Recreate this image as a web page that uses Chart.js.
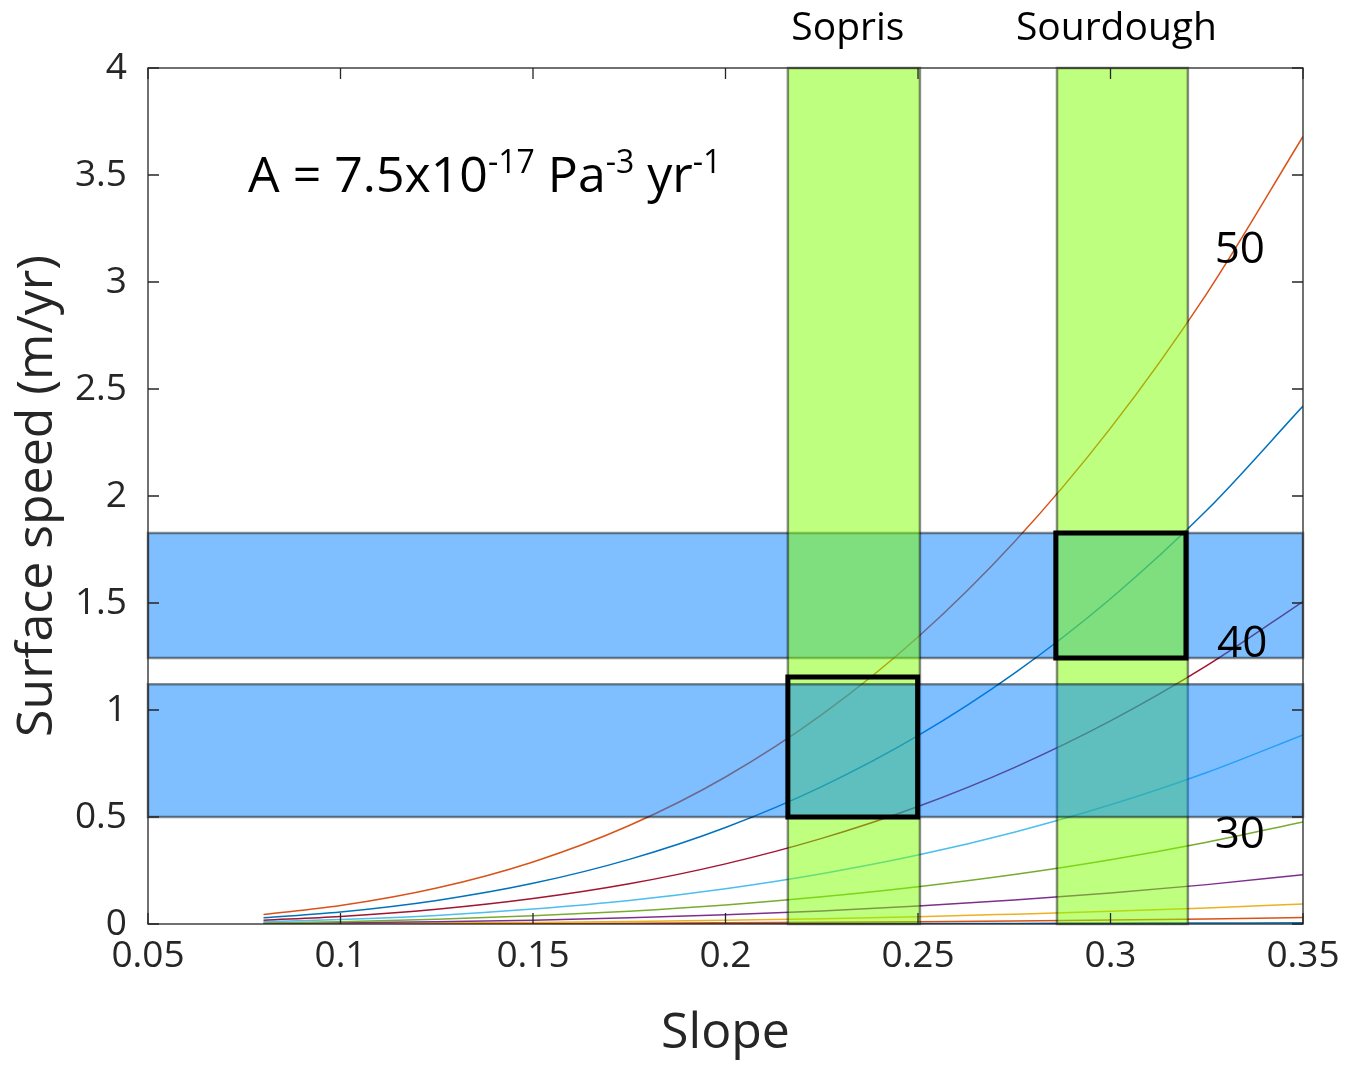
<!DOCTYPE html>
<html>
<head>
<meta charset="utf-8">
<script src="https://cdn.jsdelivr.net/npm/chart.js@4.4.1/dist/chart.umd.min.js"></script>
<style>
  html, body { margin: 0; padding: 0; background: #ffffff; }
  #wrap { width: 1355px; height: 1066px; position: relative; }
</style>
</head>
<body>
<div id="wrap"><canvas id="chart" width="1355" height="1066"></canvas></div>
<script>
// Surface speed vs. slope for ice thicknesses of 10-50 m
const slopes = [0.08, 0.1, 0.125, 0.15, 0.175, 0.2, 0.225, 0.25, 0.275, 0.3, 0.325, 0.35];
const thicknesses = [10, 15, 20, 25, 30, 35, 40, 45, 50];

const speedH10 = [0.0001, 0.0001, 0.0003, 0.0005, 0.0007, 0.0011, 0.0016, 0.0021, 0.0029, 0.0037, 0.0047, 0.0059];
const speedH15 = [0.0004, 0.0007, 0.0014, 0.0023, 0.0037, 0.0056, 0.0079, 0.011, 0.0145, 0.0188, 0.0239, 0.030];
const speedH20 = [0.0011, 0.0022, 0.0043, 0.0074, 0.0118, 0.0176, 0.025, 0.034, 0.046, 0.059, 0.075, 0.094];
const speedH25 = [0.0027, 0.0054, 0.0105, 0.018, 0.029, 0.043, 0.061, 0.084, 0.112, 0.145, 0.184, 0.230];
const speedH30 = [0.0057, 0.011, 0.022, 0.038, 0.060, 0.089, 0.127, 0.174, 0.231, 0.300, 0.382, 0.477];
const speedH35 = [0.011, 0.021, 0.040, 0.070, 0.110, 0.165, 0.235, 0.322, 0.429, 0.557, 0.708, 0.884];
const speedH40 = [0.018, 0.035, 0.069, 0.119, 0.188, 0.281, 0.400, 0.549, 0.731, 0.949, 1.207, 1.507];
const speedH45 = [0.029, 0.056, 0.110, 0.190, 0.302, 0.451, 0.642, 0.880, 1.171, 1.520, 1.933, 2.420];
const speedH50 = [0.044, 0.086, 0.168, 0.290, 0.460, 0.687, 0.978, 1.341, 1.785, 2.317, 2.946, 3.680];

const speedSeries = [speedH10, speedH15, speedH20, speedH25, speedH30, speedH35, speedH40, speedH45, speedH50];
const lineColors = ['#0072BD', '#D95319', '#EDB120', '#7E2F8E', '#77AC30', '#4DBEEE', '#A2142F', '#0072BD', '#D95319'];

// Observed slope ranges of the two glaciers
const glacierNames = ['Sopris', 'Sourdough'];
const glacierSlopes = [[0.2162, 0.2505], [0.2861, 0.3201]];
// Observed surface speed ranges (lower band, upper band)
const speedBands = [[0.5, 1.12], [1.243, 1.827]];
// Combined slope/speed windows for each glacier
const matchBoxes = [
  { slope: [0.2162, 0.2499], speed: [0.5, 1.154] },
  { slope: [0.2858, 0.3196], speed: [1.243, 1.827] }
];
// Thickness labels beside the curves
const curveLabels = [
  { text: '50', slope: 0.3336, speed: 3.09 },
  { text: '40', slope: 0.3342, speed: 1.25 },
  { text: '30', slope: 0.3336, speed: 0.355 }
];

const xTicks = [0.05, 0.1, 0.15, 0.2, 0.25, 0.3, 0.35];
const yTicks = [0, 0.5, 1, 1.5, 2, 2.5, 3, 3.5, 4];

const FONT = "'Open Sans', 'Noto Sans', sans-serif";
const INK = '#262626';

const datasets = speedSeries.map((vals, i) => ({
  label: thicknesses[i] + ' m',
  data: slopes.map((s, j) => ({ x: s, y: vals[j] })),
  borderColor: lineColors[i],
  borderWidth: 1.5,
  pointRadius: 0,
  fill: false,
  cubicInterpolationMode: 'monotone',
  order: speedSeries.length - i
}));

const overlays = {
  id: 'overlays',
  afterDatasetsDraw(chart) {
    const { ctx, chartArea: a, scales: { x, y } } = chart;
    const px = v => x.getPixelForValue(v);
    const py = v => y.getPixelForValue(v);

    const rect = (x0, x1, y0, y1, fill, edge, lw) => {
      const L = px(x0), R = px(x1), T = py(y1), B = py(y0);
      ctx.beginPath();
      ctx.rect(L, T, R - L, B - T);
      if (fill) { ctx.fillStyle = fill; ctx.fill(); }
      if (edge) { ctx.strokeStyle = edge; ctx.lineWidth = lw; ctx.stroke(); }
    };

    ctx.save();
    const xmin = x.min, xmax = x.max, ymin = y.min, ymax = y.max;
    const blue = 'rgba(0,128,255,0.5)';
    const green = 'rgba(128,255,0,0.5)';
    const edge = 'rgba(0,0,0,0.45)';

    // upper speed band, glacier slope bands, then lower speed band
    rect(xmin, xmax, speedBands[1][0], speedBands[1][1], blue, edge, 2.5);
    glacierSlopes.forEach(r => rect(r[0], r[1], ymin, ymax, green, edge, 2.5));
    rect(xmin, xmax, speedBands[0][0], speedBands[0][1], blue, edge, 2.5);

    // matching windows
    matchBoxes.forEach(b => rect(b.slope[0], b.slope[1], b.speed[0], b.speed[1], null, '#000000', 5));

    // axes box
    ctx.strokeStyle = INK;
    ctx.lineWidth = 1.3;
    ctx.strokeRect(a.left, a.top, a.right - a.left, a.bottom - a.top);

    // inward tick marks on all four sides
    const tl = 11;
    ctx.beginPath();
    xTicks.forEach(v => {
      const X = px(v);
      ctx.moveTo(X, a.bottom); ctx.lineTo(X, a.bottom - tl);
      ctx.moveTo(X, a.top); ctx.lineTo(X, a.top + tl);
    });
    yTicks.forEach(v => {
      const Y = py(v);
      ctx.moveTo(a.left, Y); ctx.lineTo(a.left + tl, Y);
      ctx.moveTo(a.right, Y); ctx.lineTo(a.right - tl, Y);
    });
    ctx.stroke();

    // glacier names above the slope bands
    ctx.fillStyle = '#000000';
    ctx.textAlign = 'center';
    ctx.textBaseline = 'alphabetic';
    ctx.font = `39px ${FONT}`;
    glacierSlopes.forEach((r, i) => {
      ctx.fillText(glacierNames[i], (px(r[0]) + px(r[1])) / 2 - 6, 40);
    });

    // thickness labels
    ctx.font = `44px ${FONT}`;
    curveLabels.forEach(l => ctx.fillText(l.text, px(l.slope), py(l.speed)));

    // flow-law parameter with superscripts
    const parts = [
      ['A = 7.5x10', false], ['-17', true], [' Pa', false],
      ['-3', true], [' yr', false], ['-1', true]
    ];
    ctx.textAlign = 'left';
    let cx = px(0.076);
    const base = py(3.42);
    parts.forEach(([t, sup]) => {
      ctx.font = sup ? `32px ${FONT}` : `50px ${FONT}`;
      ctx.fillText(t, cx, sup ? base - 19 : base);
      cx += ctx.measureText(t).width;
    });
    ctx.restore();
  }
};

new Chart(document.getElementById('chart'), {
  type: 'line',
  data: { datasets },
  options: {
    responsive: false,
    animation: false,
    events: [],
    layout: { padding: { left: 0, right: 52, top: 68, bottom: 0 } },
    plugins: { legend: { display: false }, tooltip: { enabled: false } },
    scales: {
      x: {
        type: 'linear',
        min: 0.05,
        max: 0.35,
        afterFit: s => { s.height = 142; },
        afterBuildTicks: s => { s.ticks = xTicks.map(v => ({ value: v })); },
        grid: { display: false, drawTicks: false },
        border: { display: false },
        ticks: {
          padding: 10,
          color: INK,
          font: { family: FONT, size: 37 },
          callback: v => String(+v.toFixed(2))
        },
        title: {
          display: true,
          text: 'Slope',
          color: INK,
          font: { family: FONT, size: 50 },
          padding: { top: 0, bottom: 2 }
        }
      },
      y: {
        type: 'linear',
        min: 0,
        max: 4,
        afterFit: s => { s.width = 148; },
        afterBuildTicks: s => { s.ticks = yTicks.map(v => ({ value: v })); },
        grid: { display: false, drawTicks: false },
        border: { display: false },
        ticks: {
          padding: 21,
          color: INK,
          font: { family: FONT, size: 37 },
          callback: v => String(+v.toFixed(2))
        },
        title: {
          display: true,
          text: 'Surface speed (m/yr)',
          color: INK,
          font: { family: FONT, size: 50 },
          padding: { top: 8, bottom: 0 }
        }
      }
    }
  },
  plugins: [overlays]
});
</script>
</body>
</html>
